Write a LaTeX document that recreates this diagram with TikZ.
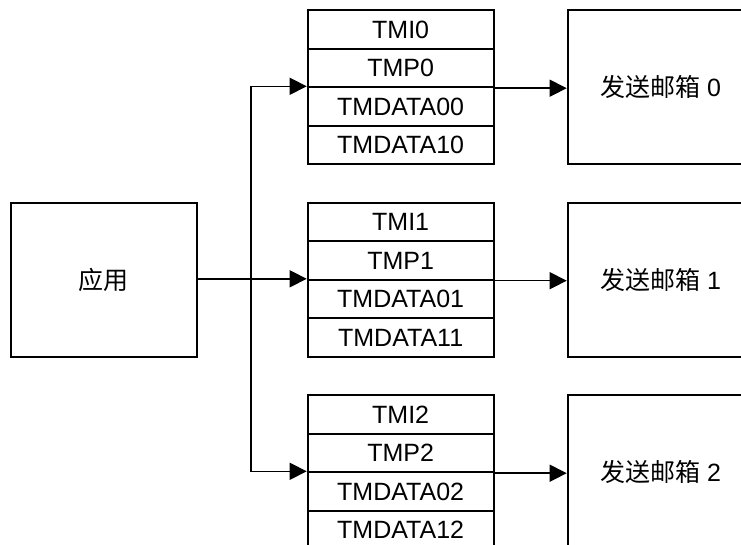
\documentclass[tikz,border=0pt]{standalone}
\usepackage{fontspec}
\setmainfont{Liberation Sans}
\newfontfamily\cjk{Noto Sans CJK SC}
\usetikzlibrary{arrows.meta}
\begin{document}
\begin{tikzpicture}[x=1pt,y=-1pt,
  box/.style={draw,line width=1.9pt,rectangle,inner sep=0pt,minimum width=186pt,minimum height=38.5pt,anchor=north west,font=\fontsize{25}{28}\selectfont},
  bigbox/.style={draw,line width=1.9pt,rectangle,inner sep=0pt,minimum width=186pt,minimum height=154pt,anchor=north west,font=\fontsize{25}{28}\selectfont},
  appbox/.style={draw,line width=1.9pt,rectangle,inner sep=0pt,minimum width=185.7pt,minimum height=153.7pt,anchor=north west,font=\fontsize{25}{28}\selectfont},
  conn/.style={line width=1.5pt},
  arr/.style={conn,-{Triangle[length=17pt,width=17pt]}}]
\clip (0,0) rectangle (741,544);
\fill[white] (0,0) rectangle (741,544);
\node[appbox] (app) at (10,202) {\cjk 应用};
\foreach \i/\t in {0/9.3,1/201.8,2/394.3}{
  \node[box] (s\i r1) at (306.7,\t) {TMI\i};
  \node[box] (s\i r2) at (306.7,\t+38.5) {TMP\i};
  \node[box] (s\i r3) at (306.7,\t+77) {TMDATA0\i};
  \node[box] (s\i r4) at (306.7,\t+115.5) {TMDATA1\i};
  \node[bigbox] (m\i) at (566.7,\t) {{\cjk 发送邮箱} \i};
  \draw[arr] (s\i r2.south east) -- (s\i r2.south east -| m\i.west);
}
\coordinate (jn) at (251,0 |- s1r3.north west);
\draw[arr] (app.east |- s1r3.north west) -- (s1r3.north west);
\draw[arr] (jn) |- (s0r3.north west);
\draw[arr] (jn) |- (s2r3.north west);
\end{tikzpicture}
\end{document}
